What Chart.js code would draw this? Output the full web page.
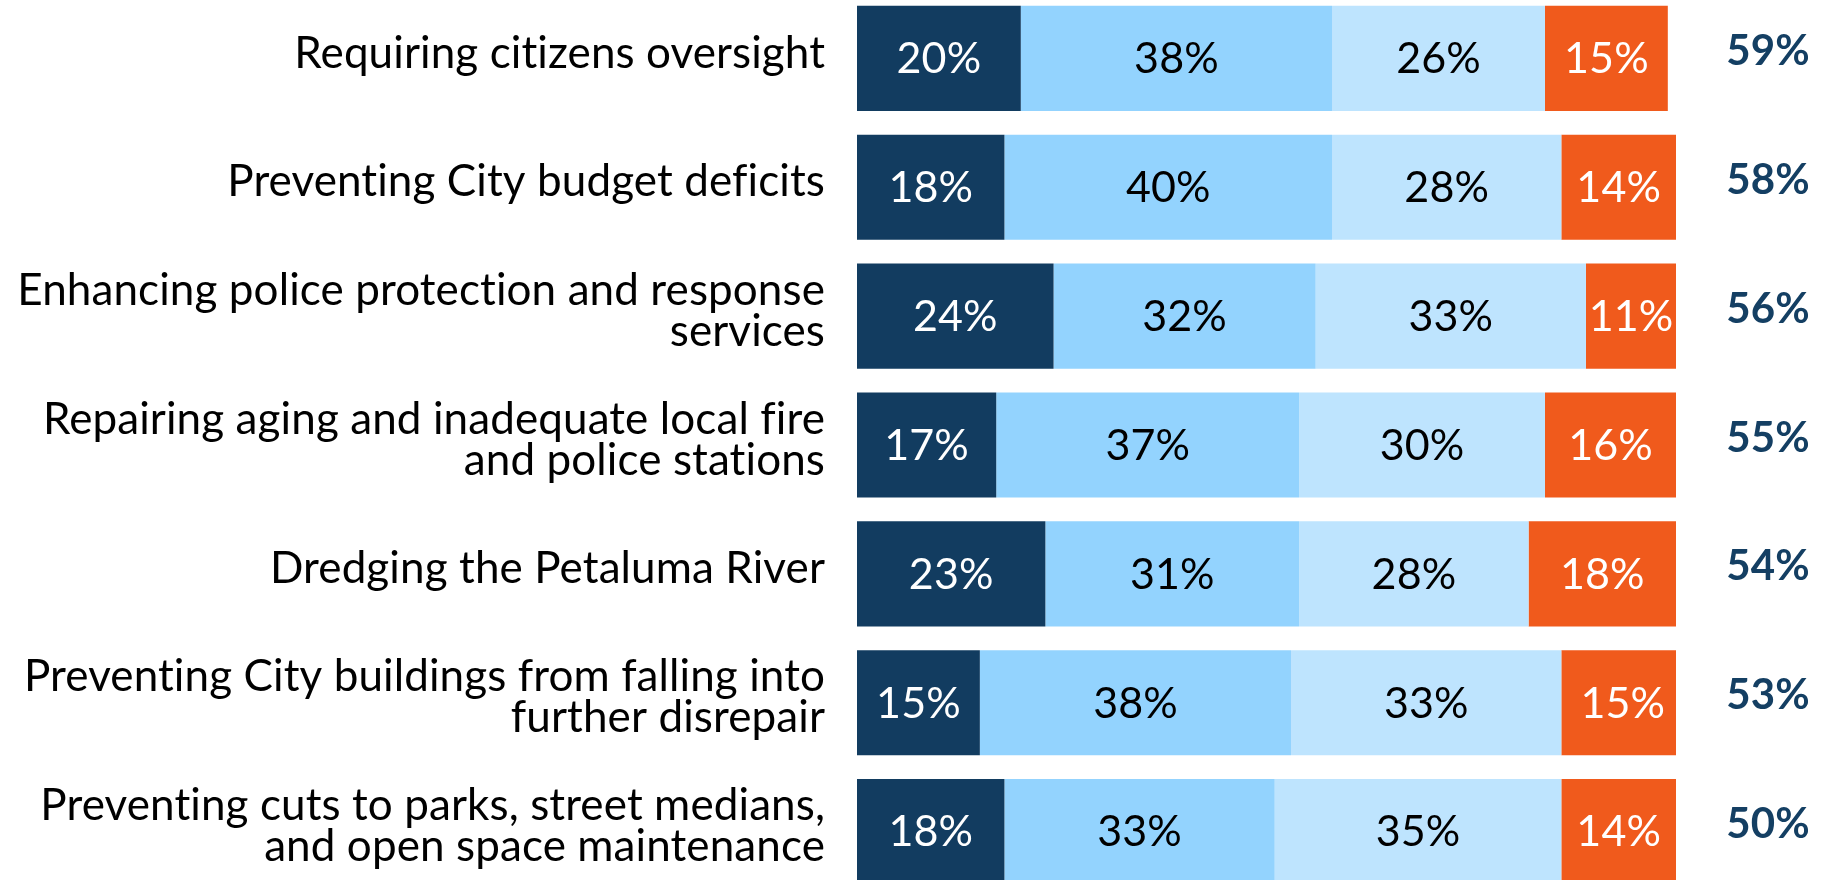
<!DOCTYPE html>
<html>
<head>
<meta charset="utf-8">
<script src="https://cdn.jsdelivr.net/npm/chart.js@4.4.1/dist/chart.umd.min.js"></script>
<style>
  html, body { margin: 0; padding: 0; background: #ffffff; overflow: hidden; width: 1829px; height: 880px; }
  #wrap { position: absolute; left: 0; top: -6px; width: 1829px; height: 902px; }
</style>
</head>
<body>
<div id="wrap"><canvas id="c"></canvas></div>
<script>
// ---- data ----
const categories = [
  ["Requiring citizens oversight"],
  ["Preventing City budget deficits"],
  ["Enhancing police protection and response", "services"],
  ["Repairing aging and inadequate local fire", "and police stations"],
  ["Dredging the Petaluma River"],
  ["Preventing City buildings from falling into", "further disrepair"],
  ["Preventing cuts to parks, street medians,", "and open space maintenance"]
];
const seriesNames = ["Very important", "Somewhat important", "Less important", "Not important"];
const veryImportant     = [20, 18, 24, 17, 23, 15, 18];
const somewhatImportant = [38, 40, 32, 37, 31, 38, 33];
const lessImportant     = [26, 28, 33, 30, 28, 33, 35];
const notImportant      = [15, 14, 11, 16, 18, 15, 14];
const netTotals         = [59, 58, 56, 55, 54, 53, 50];

const colors = ["#123C60", "#93D3FE", "#BEE4FE", "#F05A1C"];
const labelColors = ["#FFFFFF", "#000000", "#000000", "#FFFFFF"];
const FONT = "Lato";

const seriesValues = [veryImportant, somewhatImportant, lessImportant, notImportant];

const labelPlugin = {
  id: 'barLabels',
  afterLayout(chart) {
    // nudge category labels slightly upward, as in the reference
    const items = chart.scales.y.getLabelItems();
    items.forEach(it => { it.options.translation[1] -= 5; });
  },
  beforeDraw(chart) {
    const ctx = chart.ctx;
    try { ctx.textRendering = 'optimizeSpeed'; } catch (e) {}
    try { ctx.letterSpacing = '0.1px'; } catch (e) {}
  },
  afterDatasetsDraw(chart) {
    const ctx = chart.ctx;
    ctx.save();
    ctx.textAlign = 'center';
    ctx.textBaseline = 'middle';
    chart.data.datasets.forEach((ds, di) => {
      const meta = chart.getDatasetMeta(di);
      ctx.fillStyle = labelColors[di];
      ctx.font = "43px " + FONT;
      meta.data.forEach((bar, i) => {
        const x = (bar.base + bar.x) / 2;
        ctx.fillText(ds.data[i] + "%", x, bar.y + 1);
      });
    });
    const meta0 = chart.getDatasetMeta(0);
    ctx.fillStyle = "#143F63";
    ctx.font = "bold 42px " + FONT;
    meta0.data.forEach((bar, i) => {
      ctx.fillText(netTotals[i] + "%", chart.chartArea.right + 92, bar.y - 7);
    });
    ctx.restore();
  }
};

new Chart(document.getElementById('c'), {
  type: 'bar',
  data: {
    labels: categories,
    datasets: seriesValues.map((vals, i) => ({
      label: seriesNames[i],
      data: vals,
      backgroundColor: colors[i],
      borderWidth: 0,
      barPercentage: 1,
      categoryPercentage: 0.816
    }))
  },
  options: {
    indexAxis: 'y',
    responsive: true,
    maintainAspectRatio: false,
    animation: false,
    layout: { padding: { left: 0, right: 153, top: 0, bottom: 0 } },
    plugins: { legend: { display: false }, tooltip: { enabled: false } },
    scales: {
      x: { stacked: true, display: false, min: 0, max: 100 },
      y: {
        stacked: true,
        grid: { display: false, drawTicks: false },
        border: { display: false },
        ticks: {
          color: "#000000",
          font: { family: FONT, size: 44, lineHeight: '41px' },
          padding: 32
        },
        afterFit(scale) {
          scale.width = 857;
          scale.paddingTop = 0;
          scale.paddingBottom = 0;
        }
      }
    }
  },
  plugins: [labelPlugin]
});
</script>
</body>
</html>
